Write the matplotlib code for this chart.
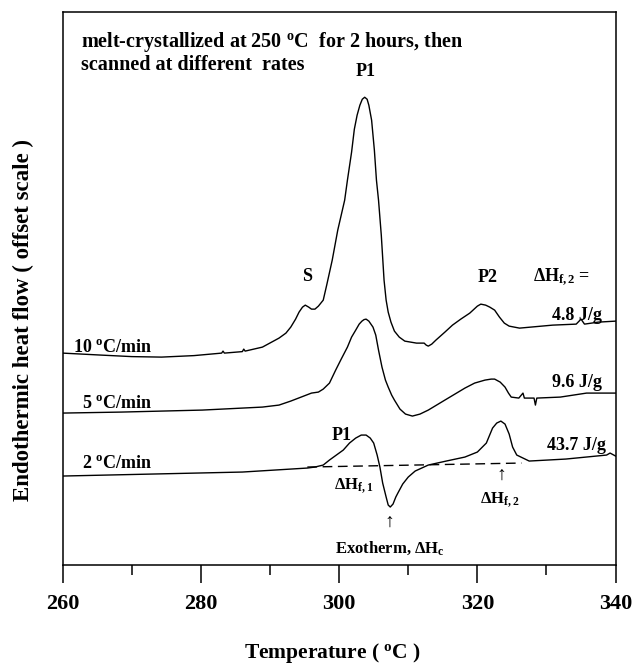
import numpy as np
import matplotlib
matplotlib.use("Agg")
import matplotlib.pyplot as plt

plt.rcParams['font.family'] = ['Liberation Serif', 'DejaVu Serif']
plt.rcParams['font.weight'] = 'bold'
plt.rcParams['mathtext.fontset'] = 'custom'
plt.rcParams['mathtext.rm'] = 'Liberation Serif:bold'
plt.rcParams['mathtext.bf'] = 'Liberation Serif:bold'
plt.rcParams['mathtext.it'] = 'Liberation Serif:bold:italic'

# DSC traces, offset scale (arbitrary units)
t10 = [260.0, 265.6, 270.0, 274.3, 279.0, 283.0, 283.2, 283.4, 286.0, 286.2, 286.4, 288.9,
       291.3, 292.3, 293.0, 293.7, 294.2, 294.7, 295.1, 295.6, 296.0, 296.5, 297.0, 297.7,
       298.2, 299.0, 299.8, 300.8, 301.2, 301.8, 302.2, 302.6, 303.0, 303.35, 303.7, 304.05,
       304.3, 304.7, 305.1, 305.4, 305.7, 306.1, 306.5, 306.8, 307.1, 307.5, 308.0, 308.7,
       309.5, 311.2, 312.3, 312.6, 312.9, 313.4, 314.0, 315.3, 316.4, 317.6, 318.9, 320.0,
       320.5, 321.2, 321.8, 322.5, 323.2, 323.9, 324.6, 326.1, 330.9, 334.3, 335.0, 335.5,
       337.5, 340.0]
y10 = [21.2, 21.0, 20.85, 20.8, 20.95, 21.2, 21.4, 21.2, 21.35, 21.6, 21.4, 21.8,
       22.7, 23.2, 23.8, 24.6, 25.3, 25.8, 26.0, 25.8, 25.6, 25.6, 25.9, 26.5,
       28.0, 30.5, 33.5, 36.5, 38.5, 41.3, 43.6, 45.0, 46.0, 46.6, 46.8, 46.6,
       46.0, 44.5, 41.5, 38.5, 36.5, 33.0, 28.5, 26.5, 25.3, 24.3, 23.4, 22.8,
       22.4, 22.2, 22.2, 22.0, 21.9, 22.1, 22.5, 23.3, 24.0, 24.6, 25.2, 25.9,
       26.1, 26.0, 25.8, 25.5, 24.8, 24.2, 23.9, 23.7, 24.0, 24.1, 24.6, 24.1,
       24.3, 24.4]

t5 = [260.0, 268.5, 280.2, 288.9, 291.3, 293.0, 294.5, 296.0, 297.0, 297.7, 298.6, 299.5,
      300.3, 301.2, 301.8, 302.4, 302.9, 303.3, 303.6, 303.9, 304.3, 304.9, 305.3, 305.7,
      306.2, 306.7, 307.1, 307.6, 308.0, 308.8, 309.6, 310.6, 311.7, 312.9, 315.3, 318.2,
      319.6, 321.1, 322.0, 322.5, 323.3, 324.0, 324.5, 324.9, 326.0, 326.6, 326.8, 328.2,
      328.4, 328.6, 332.0, 335.8, 340.0]
y5 = [15.2, 15.3, 15.5, 15.8, 16.0, 16.4, 16.8, 17.2, 17.3, 17.6, 18.2, 19.5,
      20.6, 21.8, 22.8, 23.5, 24.1, 24.4, 24.55, 24.6, 24.4, 23.8, 23.0, 21.5,
      19.8, 18.5, 17.8, 17.0, 16.5, 15.6, 15.1, 14.9, 15.1, 15.5, 16.5, 17.7,
      18.2, 18.5, 18.6, 18.6, 18.3, 17.8, 17.2, 16.8, 16.7, 17.2, 16.7, 16.7,
      16.0, 16.7, 16.8, 17.2, 17.2]

t2 = [260.0, 286.0, 295.4, 296.5, 297.7, 298.6, 299.6, 300.6, 301.5, 302.4, 303.2, 303.9,
      304.5, 305.0, 305.5, 305.9, 306.3, 306.8, 307.1, 307.4, 307.8, 308.2, 308.5, 309.2,
      310.0, 311.0, 312.9, 315.5, 318.2, 320.0, 321.3, 322.2, 322.8, 323.4, 324.0, 324.6,
      325.1, 325.7, 326.3, 327.5, 332.8, 338.7, 339.2, 340.0]
y2 = [8.9, 9.3, 9.7, 9.8, 10.0, 10.5, 11.0, 11.5, 12.2, 12.7, 13.0, 13.0,
      12.7, 12.2, 11.0, 9.8, 8.2, 6.8, 6.0, 5.8, 6.1, 6.8, 7.2, 8.1,
      8.8, 9.4, 10.0, 10.4, 10.8, 11.3, 12.2, 13.7, 14.2, 14.4, 14.1, 13.1,
      11.8, 11.0, 10.8, 10.4, 10.6, 11.0, 11.2, 10.9]

base_t = [295.4, 326.4]
base_y = [9.8, 10.2]

rates = ['10 $^{\\mathrm{o}}$C/min', '5 $^{\\mathrm{o}}$C/min', '2 $^{\\mathrm{o}}$C/min']
rate_y = [21.8, 16.2, 10.2]
dh2 = ['4.8 J/g', '9.6 J/g', '43.7 J/g']
dh2_y = [25.0, 18.3, 12.0]

fig = plt.figure(figsize=(6.33, 6.68), dpi=100)
ax = fig.add_axes([0.099, 0.1542, 0.8735, 0.8274])

for t, y in [(t10, y10), (t5, y5), (t2, y2)]:
    ax.plot(t, y, color='black', lw=1.0, solid_joinstyle='round')
ax.plot(base_t, base_y, color='black', lw=1.0, ls=(0, (7, 4)))

ax.set_xlim(260, 340)
ax.set_ylim(0, 55.3)
ax.set_xticks([260, 280, 300, 320, 340])
ax.set_xticks([270, 290, 310, 330], minor=True)
ax.set_yticks([])
ax.tick_params(axis='x', which='major', direction='out', length=13, width=1.1,
               labelsize=16, pad=8)
ax.tick_params(axis='x', which='minor', direction='out', length=7, width=1.1)
for s in ax.spines.values():
    s.set_linewidth(1.1)
for lab in ax.get_xticklabels():
    lab.set_fontweight('bold')

ax.text(262.6, 52.3, 'melt-crystallized at 250 $^{\\mathrm{o}}$C  for 2 hours, then',
        fontsize=14.5, va='center', ha='left')
ax.text(262.6, 50.0, 'scanned at different  rates', fontsize=14.5, va='center', ha='left')
ax.text(303.9, 49.4, 'P1', fontsize=13, ha='center', va='center')
ax.text(295.4, 28.9, 'S', fontsize=13, ha='center', va='center')
ax.text(321.5, 28.8, 'P2', fontsize=13, ha='center', va='center')
ax.text(332.2, 28.8, '\u0394H$_{\\mathrm{f,2}}$ =', fontsize=13, ha='center', va='center')

for lab, y in zip(rates, rate_y):
    ax.text(272.9, y, lab, fontsize=13, ha='right', va='center')
for lab, y in zip(dh2, dh2_y):
    ax.text(334.4, y, lab, fontsize=13, ha='center', va='center')

ax.text(300.4, 13.0, 'P1', fontsize=13, ha='center', va='center')
ax.text(302.1, 8.0, '\u0394H$_{\\mathrm{f,1}}$', fontsize=12, ha='center', va='center')
ax.text(307.2, 4.3, '\u2191', fontsize=14, ha='center', va='center', fontweight='normal')
ax.text(307.4, 1.7, 'Exotherm, \u0394H$_{\\mathrm{c}}$', fontsize=12, ha='center', va='center')
ax.text(323.4, 9.0, '\u2191', fontsize=14, ha='center', va='center', fontweight='normal')
ax.text(323.3, 6.6, '\u0394H$_{\\mathrm{f,2}}$', fontsize=12, ha='center', va='center')

fig.text(0.525, 1 - 653 / 668, 'Temperature ( $^{\\mathrm{o}}$C )', fontsize=15.5,
         ha='center', va='center')
fig.text(23 / 633, 1 - 320 / 668, 'Endothermic heat flow ( offset scale )', fontsize=16.5,
         ha='center', va='center', rotation=90)

fig.savefig('out.png', dpi=100)
